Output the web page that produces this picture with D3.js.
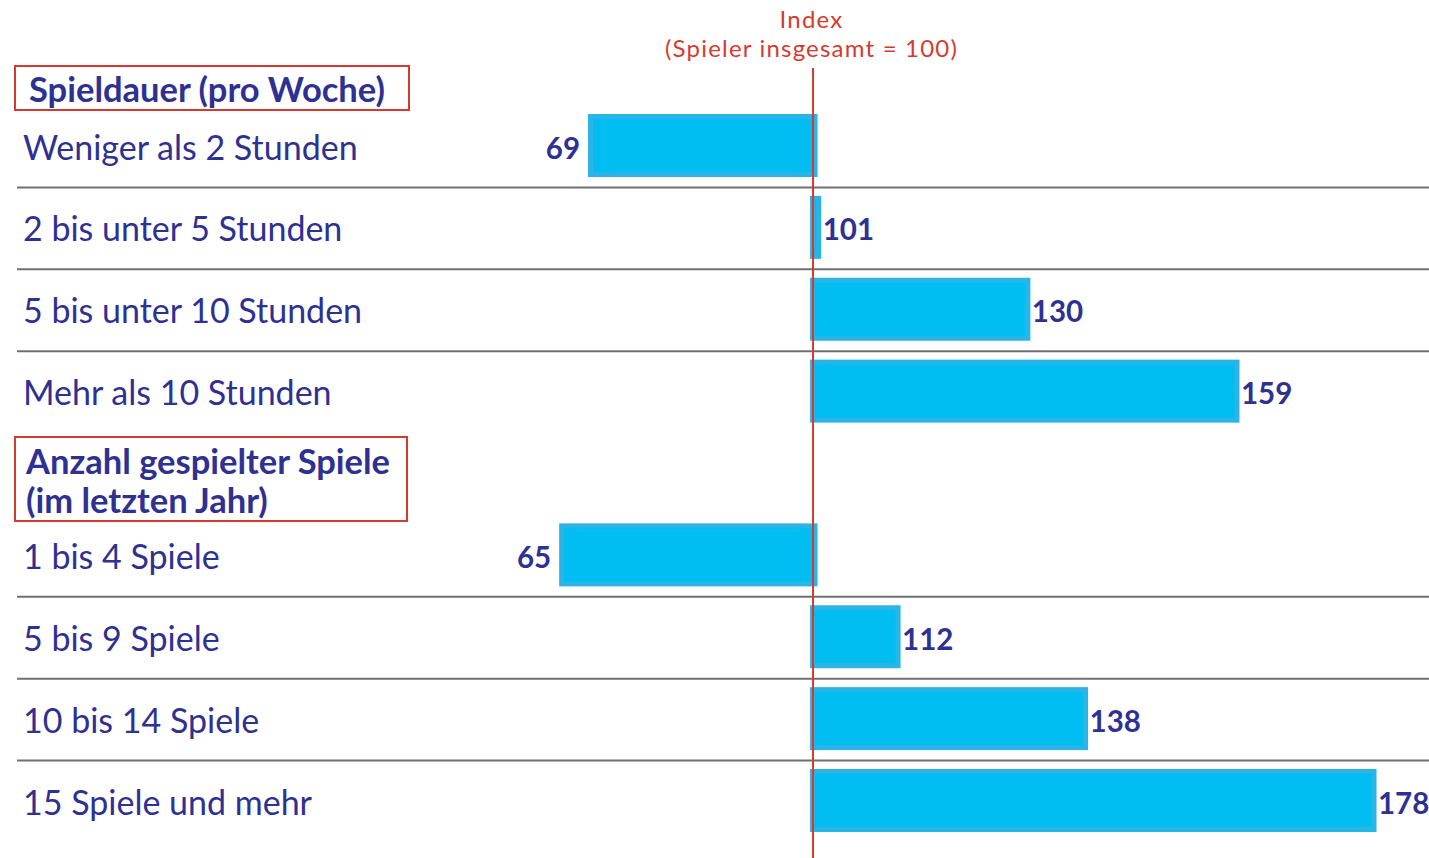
<!DOCTYPE html>
<html>
<head>
<meta charset="utf-8">
<script src="https://cdn.jsdelivr.net/npm/d3@7"></script>
<style>
  body { margin: 0; background: #fff; }
  svg { display: block; }
  text { font-family: "Lato", "Noto Sans", sans-serif; }
</style>
</head>
<body>
<svg id="chart" width="1429" height="858"></svg>
<script>
// chart data
var groupTitles = [["Spieldauer (pro Woche)"], ["Anzahl gespielter Spiele", "(im letzten Jahr)"]];
var categories = [
  "Weniger als 2 Stunden", "2 bis unter 5 Stunden", "5 bis unter 10 Stunden", "Mehr als 10 Stunden",
  "1 bis 4 Spiele", "5 bis 9 Spiele", "10 bis 14 Spiele", "15 Spiele und mehr"
];
var groupOf = [0, 0, 0, 0, 1, 1, 1, 1];
var values = [69, 101, 130, 159, 65, 112, 138, 178];
var baseValue = 100;
var indexTitle = ["Index", "(Spieler insgesamt = 100)"];

var navy = "#2e3192", red = "#d63a2f", barFill = "#00bdf2", barEdge = "#2bb4e6";

var svg = d3.select("#chart");

// each row gets a slot; the second group header takes one slot
var slots = categories.map(function(d, i){ return i + groupOf[i]; });
var y = d3.scaleLinear().domain([0, 8]).range([145.5, 800.5]);
var x = d3.scaleLinear().domain([69, 178]).range([588, 1374]);
var barH = 58;

// separators between rows of the same group
var seps = [];
for (var i = 0; i < categories.length - 1; i++){
  if (groupOf[i] == groupOf[i + 1]) seps.push((y(slots[i]) + y(slots[i + 1])) / 2 + 1);
}
svg.selectAll("line.sep").data(seps).enter().append("line")
  .attr("class", "sep")
  .attr("x1", 17).attr("x2", 1429)
  .attr("y1", function(d){ return d; }).attr("y2", function(d){ return d; })
  .attr("stroke", "#707070").attr("stroke-width", 2);

// bars
svg.selectAll("rect.bar").data(values).enter().append("rect")
  .attr("class", "bar")
  .attr("x", function(d){ return d < baseValue ? x(d) + 2.5 : x(baseValue) + 1; })
  .attr("width", function(d){ return Math.abs(x(d) - x(baseValue)) + (d < baseValue ? 1 : -1); })
  .attr("y", function(d, i){ return y(slots[i]) - barH / 2; })
  .attr("height", barH)
  .attr("fill", barFill)
  .attr("stroke", barEdge).attr("stroke-width", 5);

// value labels
svg.selectAll("text.val").data(values).enter().append("text")
  .attr("class", "val")
  .attr("x", function(d){ return d < baseValue ? x(d) - 8 : x(d) + 4; })
  .attr("y", function(d, i){ return y(slots[i]) + 13; })
  .attr("text-anchor", function(d){ return d < baseValue ? "end" : "start"; })
  .attr("font-size", 29.5).attr("font-weight", "bold")
  .attr("fill", navy)
  .text(function(d){ return d; });

// category labels
svg.selectAll("text.cat").data(categories).enter().append("text")
  .attr("class", "cat")
  .attr("x", 23)
  .attr("y", function(d, i){ return y(slots[i]) + 14; })
  .attr("font-size", 34)
  .attr("fill", navy)
  .text(function(d){ return d; });

// group header boxes
var headerBox = [{x: 15, y: 66, w: 394, h: 44}, {x: 15, y: 437, w: 392, h: 84}];
groupTitles.forEach(function(lines, g){
  var b = headerBox[g];
  svg.append("rect")
    .attr("x", b.x).attr("y", b.y).attr("width", b.w).attr("height", b.h)
    .attr("fill", "none").attr("stroke", red).attr("stroke-width", 2);
  var t = svg.append("text")
    .attr("font-size", 34.5).attr("font-weight", "bold").attr("fill", navy);
  lines.forEach(function(l, k){
    t.append("tspan").attr("x", g == 0 ? 29 : 26).attr("y", b.y + (g == 0 ? 36 : 37) + k * 39).text(l);
  });
});

// index reference line
svg.append("line")
  .attr("x1", x(baseValue) + 1.5).attr("x2", x(baseValue) + 1.5)
  .attr("y1", 68).attr("y2", 858)
  .attr("stroke", red).attr("stroke-width", 2);

svg.selectAll("text.idx").data(indexTitle).enter().append("text")
  .attr("class", "idx")
  .attr("text-anchor", "middle").attr("font-size", 24).attr("fill", red)
  .attr("letter-spacing", 1.2)
  .attr("x", x(baseValue)).attr("y", function(d, i){ return 28 + i * 29; })
  .text(function(d){ return d; });
</script>
</body>
</html>
